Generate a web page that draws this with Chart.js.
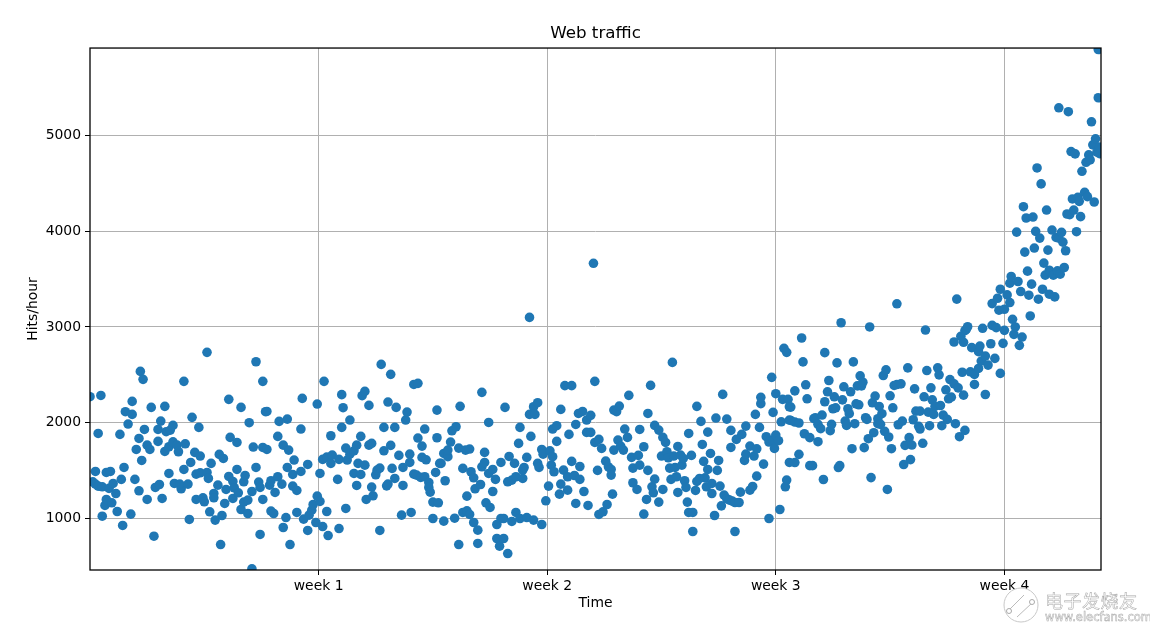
<!DOCTYPE html>
<html>
<head>
<meta charset="utf-8">
<title>Web traffic</title>
<script src="https://cdn.jsdelivr.net/npm/chart.js@4"></script>
<style>
    body { margin: 0; background: #fff; }
    #wrap { position: relative; width: 1150px; height: 632px; overflow: hidden; }
    .mark { position: absolute; color: #fff; -webkit-text-stroke: 0.5px #a8a8a8; white-space: nowrap; }
    #markName { left: 1045px; top: 587px; font: 18px "Noto Sans CJK SC"; letter-spacing: 0.5px; }
    #markUrl { left: 1045px; top: 610px; font: 11.5px "DejaVu Sans"; }
    #markLogo { position: absolute; left: 1002px; top: 583px; }
</style>
</head>
<body>
<div id="wrap">
    <canvas id="trafficChart" width="1150" height="632"></canvas>
    <svg id="markLogo" width="40" height="42" viewBox="0 0 40 42">
        <circle cx="19" cy="22" r="17" fill="#fff" stroke="#c8c8c8"/>
        <path d="M7 27 L22 12 M15 34 L30 20" stroke="#bbb" fill="none"/>
        <circle cx="7" cy="28" r="2.5" fill="#fff" stroke="#aaa"/>
        <circle cx="30" cy="19" r="2.5" fill="#fff" stroke="#aaa"/>
    </svg>
    <div class="mark" id="markName">电子发烧友</div>
    <div class="mark" id="markUrl">www.elecfans.com</div>
</div>
<script>
// Values, one pair of lists per stretch of the x axis
const hoursA = [0,8,6,4,2,4,6,9,9,11,12,12,15,14,17,16,19,20,22,23,25,24,26,28,31,31,30,33,34,36,36,37,39,38,40,42,44,42,45,47,48,51,50,50,52,53,55,55,56,58,58,59,61,61,62,65,64,67,66,69,70,69,72,73,74,75,77,78,78,80,81,81,83,84,86,86,87,89,88,91,91,92,94,95,98,97,96,99,100,102,102,103,105,105,106,108,108,109,111,111,113,113,114,116,116,117,119,119,120,122,122,124,125,125,127,127,127,129];
const hitsA = [2272,2285,1888,1491,1383,1359,1338,1331,1024,1136,1481,1199,1491,1314,1366,1164,1261,1073,1878,1408,1533,927,2115,1986,2087,2223,1045,1408,1721,1289,1836,2536,2453,1606,1930,1766,1721,1199,2160,815,1324,1355,1805,1930,2017,1209,2171,1700,1906,1749,1470,1923,1972,1801,1366,1697,1766,1310,1359,1512,1780,2432,1359,990,1585,2056,1690,1463,1199,1951,1652,1477,1216,1174,1481,2735,1418,1575,1070,1261,1216,983,1348,1669,1627,1031,728,1157,1303,1439,2244,1847,1209,1387,1321,1512,1794,1268,1094,2160,1171,1383,1449,1192,1052,2000,474,1282,1746,1533,2637,1380,1324,833,2432,1199,1742,2115];

const hoursB = [130,130,132,133,136,138,138,139,141,142,142,144,145,133,135,145,146,147,149,149,150,152,152,155,155,156,157,160,160,161,163,164,166,167,167,169,169,171,171,172,174,174,175,177,177,178,182,183,183,185,185,186,188,188,189,191,191,194,194,196,196,197,199,199,200,202,202,203,205,205,207,207,208,210,211,213,213,214,216,216,218,219,219,221,221,222,224,224,225,227,229,230,230,232,233,235,235,236,238,238,241,240,241,244,243,244,246,246,247,249,249,250,252,252,254,255,255,256,257];
const hitsB = [2118,1721,1348,1394,1272,1857,1436,2014,1359,906,1766,1010,2038,1077,1052,1533,1714,728,1460,1338,1610,1063,1293,1491,1934,2254,993,875,1564,1035,1087,1146,958,1233,2195,1178,1470,1617,916,2432,1641,1073,822,1575,1864,1662,1408,1617,895,1951,2293,2157,1105,1735,1610,1672,2028,1707,1470,1766,1345,1575,1857,1460,2282,2327,1557,1199,1766,2181,1328,1784,1237,1456,1505,875,1526,2609,1951,1707,1341,2216,1359,2505,1763,1523,1418,1951,2160,1659,1035,1533,1345,2028,2111,1585,1672,1063,1463,2400,2411,1453,1840,1756,1429,1638,1436,1934,1613,1376,1324,1275,1000,1171,1481,2132,1843,1164,1575];

const hoursC = [260,258,260,261,263,263,265,266,268,269,271,271,272,274,274,276,277,277,279,279,280,282,282,283,285,285,287,288,288,290,290,291,293,293,294,296,296,298,299,299,301,302,302,304,304,305,307,307,308,310,310,312,313,313,315,316,316,318,318,319,321,321,323,323,324,326,326,327,329,329,330,332,332,333,335,337,338,339,340,341,340,343,343,345,346,346,348,349,351,351,352,354,354,356,357,357,359,360,360,362,363,365,365,366,368,368,370,371,371,373,374,374,376,377,379,380,381,383,383,384,385,385];
const hitsC = [972,1575,1679,1394,1645,1714,1798,1916,1003,1958,1735,728,2171,1063,1523,1714,1233,1080,1725,1042,1488,958,1425,1310,739,878,1355,2317,1540,1585,1690,1164,1470,2003,1115,1282,1512,1408,937,791,711,1585,1000,791,1000,2160,634,1383,1648,1401,969,1575,1063,1436,1784,1951,1000,1418,1505,1533,1638,1010,2087,3100,1857,983,2167,2087,2209,1575,1533,1721,937,1672,1185,1338,1707,1557,1645,1488,1934,1805,1969,1254,2139,1359,1505,2387,1296,1436,1878,2387,1596,1449,1982,1157,2097,1543,1408,2118,1282,2028,1899,1136,1899,2077,3665,1794,2432,1502,1042,1826,1732,1070,1599,1146,1540,1512,1453,1254,2132,1714];

const hoursD = [387,388,389,390,392,393,395,396,398,399,399,402,403,404,404,407,407,409,410,410,412,413,414,415,415,418,418,420,421,421,423,424,425,426,427,428,429,430,431,432,432,434,435,436,437,438,439,440,440,442,443,443,445,446,446,448,449,450,451,452,453,454,454,456,457,457,459,460,461,462,463,464,465,466,468,468,470,471,471,472,474,474,475,477,478,479,481,482,482,485,485,487,488,489,490,490,492,493,493,495,497,499,499,501,502,502,503,504,504,506,507,508,509,510,511,512,512,513,514,514,514];
const hitsD = [2115,1819,2174,1756,1714,1934,1847,2286,1638,1373,1526,1303,1659,1930,1557,1749,1045,1199,1502,2097,2390,1331,1268,1411,1972,1923,1171,1652,1303,1847,1794,1697,1634,1526,1408,2630,1652,1533,1436,1752,1272,1662,1557,1627,1394,1324,1171,1063,1888,1659,1063,864,1293,2171,1387,1418,2014,1773,1596,1425,1331,1902,1512,1679,1366,1261,1031,2049,1502,1606,1338,1132,2296,1244,2038,1206,1192,1742,1920,1181,864,1167,1826,1167,1275,1878,1606,1965,1672,1756,1296,1334,1652,2087,1442,1728,1951,2199,2265,1568,1854,1000,1798,2474,2108,1819,1732,2303,1871,1812,1094,2010,2244,2777,1331,2735,1401,2244,2028,2167,1585];

const hoursE = [515,515,518,518,518,521,521,523,524,525,526,527,529,529,531,532,533,535,535,537,538,539,540,540,542,543,544,545,546,547,548,549,550,551,552,553,554,555,556,557,558,559,560,561,562,563,564,565,566,567,568,569,570,571,573,572,574,575,576,577,579,579,580,581,582,583,584,585,586,587,588,589,590,591,593,594,593,596,597,598,599,601,602,603,604,605,606,607,609,610,610,612,613,614,615,616,617,618,619,620,621,623,624,625,626,627,629,630,631,632,633,635,635,636,637,638,639,640,641,642,642,643,643];
const hitsE = [2163,2024,2333,2007,1584,1670,1997,2885,2635,1885,2396,2250,1844,1552,1552,2042,2052,1802,1983,1938,2080,1407,2732,2219,2323,2441,1917,1983,2146,2271,2156,2625,1532,1552,3044,2239,2375,2017,1972,2146,2094,2323,1729,2635,1990,2198,2385,2187,2489,2385,2423,1740,2052,2035,3000,1833,1427,2208,1896,2278,2042,1990,2170,1983,2094,2493,1910,2552,1303,1851,2281,1729,2156,2389,3242,1979,2399,2406,2017,1563,1764,2573,1844,1615,1767,2031,2354,2121,1962,1934,2121,1785,2271,2968,2545,2111,1969,2364,2239,2087,2170,2573,2500,2180,1969,2080,2344,2035,2250,2451,2267,2843,2406,1990,3291,2364,1854,2902,2527,2288,2840,1920,2961];

const hoursF = [644,645,647,648,650,650,653,653,654,655,656,658,658,660,662,663,663,665,667,666,668,669,669,671,672,672,674,676,676,677,678,679,680,681,682,683,684,685,686,687,688,689,690,691,692,693,694,695,696,697,698,699,700,701,702,703,704,705,705,706,707,709,708,710,711,712,712,713,714,715,716,717,718,719,720,721,722,723,724,725,726,728,727,729,731,732,733,734,735,736,737,738,739,740,741,741,742,742];
const hitsF = [2976,3003,2532,2784,2504,2400,2567,2742,2801,2644,2986,2295,2696,2602,2825,3017,3244,2672,3300,2993,3175,2515,3394,2829,3185,2965,3335,3457,3255,3527,3080,2923,3000,3991,3475,2808,3370,2895,4256,3782,4138,3583,3332,3115,3447,4148,3824,3998,4661,3290,3928,4494,3394,3667,3541,4221,3803,3593,3342,3569,4012,3314,3541,3935,3586,5289,3928,3551,3988,3886,3621,3796,4180,5248,4173,4832,4337,4221,4808,3995,4354,4152,4312,4626,4406,4720,4361,4797,4745,5143,4902,4305,4965,4825,5394,5897,4878,4810];

const hours = [...hoursA, ...hoursB, ...hoursC, ...hoursD, ...hoursE, ...hoursF];
const hits = [...hitsA, ...hitsB, ...hitsC, ...hitsD, ...hitsE, ...hitsF];

const weekTicks = [168, 336, 504, 672];
const weekLabels = ['week 1', 'week 2', 'week 3', 'week 4'];
const hitTicks = [1000, 2000, 3000, 4000, 5000];

const tickFont = { family: 'DejaVu Sans', size: 13.9 };

// Closes the box around the plot, Chart.js only gives the two axis lines
const frame = {
    id: 'frame',
    afterDatasetsDraw(chart) {
        const { ctx, chartArea: a } = chart;
        ctx.save();
        ctx.strokeStyle = '#000';
        ctx.lineWidth = 1.3;
        ctx.strokeRect(a.left, a.top, a.right - a.left, a.bottom - a.top);
        ctx.restore();
    }
};

new Chart(document.getElementById('trafficChart').getContext('2d'), {
    type: 'scatter',
    data: {
        datasets: [{
            label: 'Hits/hour',
            data: hours.map((h, i) => ({ x: h, y: hits[i] })),
            backgroundColor: '#1f77b4',
            borderWidth: 0,
            pointRadius: 4.8,
            clip: 0
        }]
    },
    options: {
        responsive: false,
        animation: false,
        layout: { padding: { right: 49 } },
        plugins: {
            legend: { display: false },
            tooltip: { enabled: false },
            title: {
                display: true,
                text: 'Web traffic',
                fullSize: false,
                color: '#000',
                font: { family: 'DejaVu Sans', size: 16.7, weight: 'normal' },
                padding: { top: 24, bottom: 4 }
            }
        },
        scales: {
            x: {
                min: 0,
                max: 743,
                afterBuildTicks: s => { s.ticks = weekTicks.map(v => ({ value: v })); },
                afterFit: s => { s.height = 62; },
                ticks: {
                    autoSkip: false,
                    maxRotation: 0,
                    color: '#000',
                    font: tickFont,
                    padding: 3,
                    callback: v => weekLabels[weekTicks.indexOf(v)]
                },
                grid: { color: '#b0b0b0', tickColor: '#000', tickLength: 5, lineWidth: 1 },
                border: { display: false },
                title: { display: true, text: 'Time', color: '#000', font: tickFont, padding: { top: 0, bottom: 20 } }
            },
            y: {
                min: 462,
                max: 5913,
                afterBuildTicks: s => { s.ticks = hitTicks.map(v => ({ value: v })); },
                afterFit: s => { s.width = 90; },
                ticks: {
                    autoSkip: false,
                    color: '#000',
                    font: tickFont,
                    padding: 4,
                    callback: v => String(v)
                },
                grid: { color: '#b0b0b0', tickColor: '#000', tickLength: 5, lineWidth: 1 },
                border: { display: false },
                title: { display: true, text: 'Hits/hour', color: '#000', font: tickFont, padding: { top: 25, bottom: 0 } }
            }
        }
    },
    plugins: [frame]
});
</script>
</body>
</html>
